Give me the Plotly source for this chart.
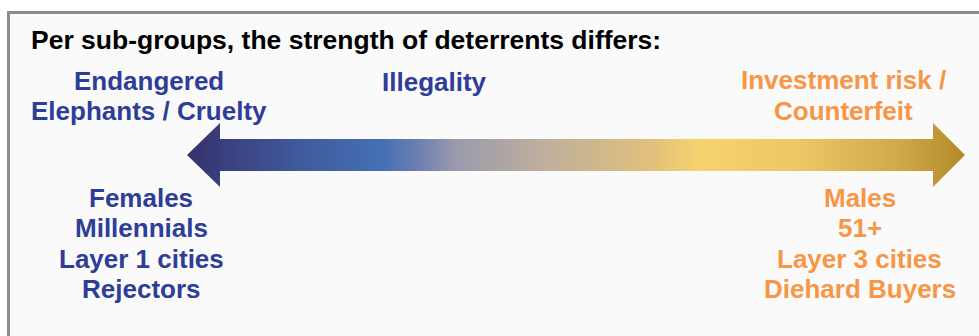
import plotly.graph_objects as go

W, H = 979, 336

title_text = "Per sub-groups, the strength of deterrents differs:"
top_left_lines = ["Endangered", "Elephants / Cruelty"]
top_mid_lines = ["Illegality"]
top_right_lines = ["Investment risk /", "Counterfeit"]
bottom_left_lines = ["Females", "Millennials", "Layer 1 cities", "Rejectors"]
bottom_right_lines = ["Males", "51+", "Layer 3 cities", "Diehard Buyers"]

# gradient stops along the arrow (fraction, colour)
grad_pos = [0.0, 0.042, 0.145, 0.252, 0.30, 0.345, 0.467, 0.595, 0.66, 0.788, 0.917, 1.0]
grad_col = ["#34346a", "#3a3d7c", "#3f5a9c", "#4570b5", "#7080b0", "#9b9aad",
            "#c1b09b", "#e0c07c", "#f5d36e", "#ecc765", "#cfa84a", "#b48a28"]

BLUE = "#2E3D98"
ORANGE = "#F79646"
FONT = "Liberation Sans, Arial, sans-serif"

# arrow geometry (pixel space)
x_tip_l, x_base_l, x_base_r, x_tip_r = 187, 220, 933, 965
y_mid, shaft_half, head_half = 155, 16, 32

ax = [x_tip_l, x_base_l, x_base_l, x_base_r, x_base_r, x_tip_r,
      x_base_r, x_base_r, x_base_l, x_base_l, x_tip_l]
ay = [y_mid, y_mid - head_half, y_mid - shaft_half, y_mid - shaft_half, y_mid - head_half, y_mid,
      y_mid + head_half, y_mid + shaft_half, y_mid + shaft_half, y_mid + head_half, y_mid]

fig = go.Figure()
fig.add_trace(go.Scatter(
    x=ax, y=ay, mode="lines", fill="toself",
    line=dict(width=0, color="rgba(0,0,0,0)"),
    fillgradient=dict(type="horizontal",
                      colorscale=[[p, c] for p, c in zip(grad_pos, grad_col)]),
    hoverinfo="skip", showlegend=False,
))

annotations = []

def add_lines(lines, xc, y0, dy, color, size=26):
    for i, t in enumerate(lines):
        annotations.append(dict(
            x=xc, y=y0 + i * dy, xref="x", yref="y", text=t, showarrow=False,
            xanchor="center", yanchor="middle",
            font=dict(family=FONT, size=size, color=color, weight="bold"),
        ))

annotations.append(dict(
    x=29, y=40, xref="x", yref="y", text=title_text, showarrow=False,
    xanchor="left", yanchor="middle",
    font=dict(family=FONT, size=26.5, color="#000000", weight="bold"),
))
add_lines(top_left_lines, 148.5, 80.5, 30, BLUE)
add_lines(top_mid_lines, 434, 82, 30, BLUE)
add_lines(top_right_lines, 843, 79.5, 31, ORANGE)
add_lines(bottom_left_lines, 141, 197.5, 30.5, BLUE)
add_lines(bottom_right_lines, 859.5, 197.5, 30.5, ORANGE)

fig.update_layout(
    width=W, height=H,
    margin=dict(l=0, r=0, t=0, b=0),
    paper_bgcolor="#ffffff", plot_bgcolor="#ffffff",
    xaxis=dict(range=[0, W], visible=False, fixedrange=True),
    yaxis=dict(range=[H, 0], visible=False, fixedrange=True),
    shapes=[dict(type="rect", xref="x", yref="y", x0=8.5, y0=12.5, x1=W + 20, y1=H + 20,
                 line=dict(color="#8c8c8c", width=3), fillcolor="#fafafa", layer="below")],
    annotations=annotations,
    showlegend=False,
)

fig.write_html("out.html")
